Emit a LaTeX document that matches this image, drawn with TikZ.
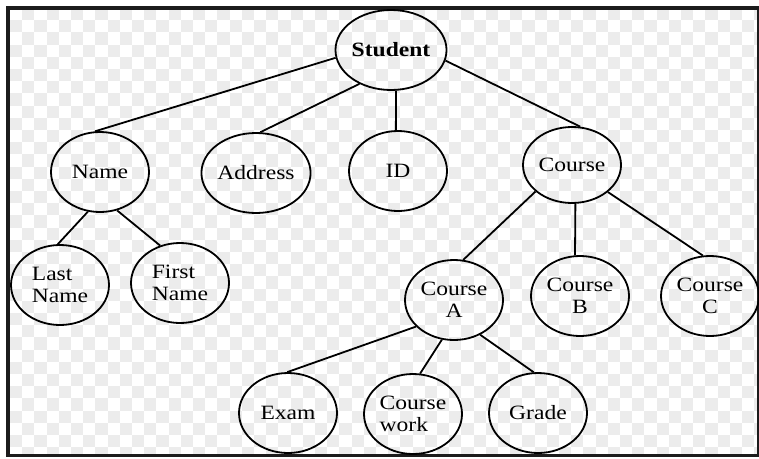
\documentclass[tikz,border=0pt]{standalone}
\usepackage{fontspec}
\setmainfont{Liberation Serif}[FakeStretch=1.16]
\usetikzlibrary{shapes.geometric}
\definecolor{checkgray}{RGB}{236,236,236}
\definecolor{framecol}{RGB}{28,28,28}
\tikzset{
  ent/.style={ellipse, draw=black, line width=1.8pt, fill=none,
    minimum width=98pt, minimum height=80pt, inner sep=0pt,
    font=\fontsize{20.3}{22}\selectfont, text=black},
  link/.style={line width=1.8pt, draw=black}
}
\begin{document}
\begin{tikzpicture}[x=1pt,y=-1pt]
\useasboundingbox (0,0) rectangle (759,458);
\fill[white] (0,0) rectangle (759,458);
% checker background
\begin{scope}
\clip (10,10) rectangle (757,454);
\foreach \i in {0,2,...,62}{
  \foreach \j in {1,3,...,37}{
    \fill[checkgray] ({10+\i*12.2},{8+\j*12.2}) rectangle ++(12.2,12.2);
  }
}
\foreach \i in {1,3,...,61}{
  \foreach \j in {0,2,...,36}{
    \fill[checkgray] ({10+\i*12.2},{8+\j*12.2}) rectangle ++(12.2,12.2);
  }
}
\end{scope}
% frame
\fill[framecol] (6,6) rectangle (759,10);
\fill[framecol] (6,6) rectangle (10,457);
\fill[framecol] (6,454) rectangle (759,457);
\fill[framecol] (757,6) rectangle (759,457);
% nodes
\node[ent] (student) at (391,50) {\bfseries Student};
\node[ent] (name) at (100,172) {Name};
\node[ent] (address) at (256,173) {Address};
\node[ent] (id) at (398,171) {ID};
\node[ent, minimum height=76pt] (course) at (572,165) {Course};
\node[ent, align=left] (last) at (60,285) {Last\\Name};
\node[ent, align=left] (first) at (180,283) {First\\Name};
\node[ent, align=center] (ca) at (454,300) {Course\\A};
\node[ent, align=center] (cb) at (580,296) {Course\\B};
\node[ent, align=center] (cc) at (710,296) {Course\\C};
\node[ent] (exam) at (288,413) {Exam};
\node[ent, align=left] (work) at (413,414) {Course\\work};
\node[ent] (grade) at (538,413) {Grade};
% connectors
\draw[link] (student.188) -- (name.97);
\draw[link] (student.227) -- (address.84);
\draw[link] (student.-83) -- (id.93);
\draw[link] (student.-11) -- (course.78);
\draw[link] (name.253) -- (last.93);
\draw[link] (name.-66) -- (first.118);
\draw[link] (course.216) -- (ca.77);
\draw[link] (course.-85) -- (cb.97);
\draw[link] (course.-37) -- (cc.100);
\draw[link] (ca.215) -- (exam.91);
\draw[link] (ca.253) -- (work.80);
\draw[link] (ca.-53) -- (grade.96);
\end{tikzpicture}
\end{document}
